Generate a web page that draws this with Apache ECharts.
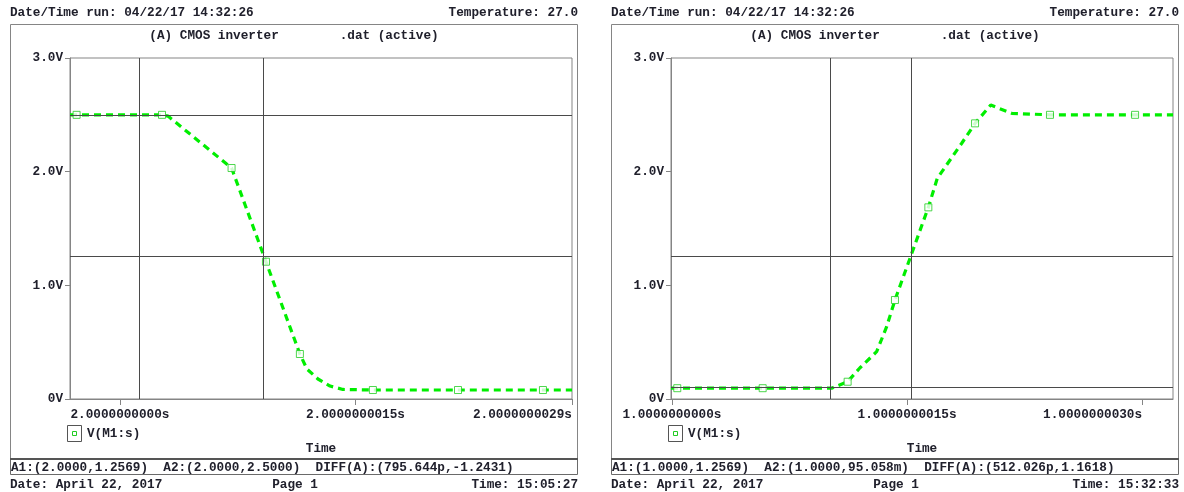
<!DOCTYPE html>
<html>
<head>
<meta charset="utf-8">
<script src="https://cdn.jsdelivr.net/npm/echarts@6/dist/echarts.min.js"></script>
<style>
  html, body { margin: 0; padding: 0; background: #ffffff; }
  #chart { width: 1184px; height: 492px; }
</style>
</head>
<body>
<div id="chart"></div>
<script>
// ---- waveform data: time offsets in ns, voltages in V ----
// falling output (left run, time base 2 s)
const leftTimeNs = [-0.318, -0.276, 0.268, 0.306, 0.711, 0.930, 1.146, 1.191, 1.261, 1.338, 1.420, 1.611, 2.153, 2.694, 2.879];
const leftVolts  = [2.500, 2.500, 2.500, 2.489, 2.032, 1.208, 0.396, 0.264, 0.176, 0.114, 0.084, 0.079, 0.079, 0.079, 0.079];
const leftMarked = [1, 2, 4, 5, 6, 11, 12, 13];

// rising output (right run, time base 1 s)
const rightTimeNs = [-0.006, 0.034, 0.579, 1.019, 1.121, 1.200, 1.306, 1.370, 1.423, 1.636, 1.693, 1.849, 1.934, 2.034, 2.168, 2.412, 2.955, 3.197];
const rightVolts  = [0.095, 0.095, 0.095, 0.095, 0.152, 0.275, 0.416, 0.636, 0.871, 1.686, 1.942, 2.250, 2.425, 2.586, 2.513, 2.500, 2.500, 2.500];
const rightMarked = [1, 2, 4, 8, 9, 12, 15, 16];

// cursor crosshairs [A1, A2]
const leftCursorX  = [0.911, 0.115];
const leftCursorY  = [1.2569, 2.5];
const rightCursorX = [1.527, 1.015];
const rightCursorY = [1.2569, 0.095058];

// axis ticks
const leftTickValues  = [0, 1.5, 2.879];
const leftTickLabels  = ['2.0000000000s', '2.0000000015s', '2.0000000029s'];
const rightTickValues = [0, 1.5, 3.0];
const rightTickLabels = ['1.0000000000s', '1.0000000015s', '1.0000000030s'];
const yTickLabels = ['0V', '1.0V', '2.0V', '3.0V'];

// page texts
const headerRun = 'Date/Time run: 04/22/17 14:32:26';
const headerTemp = 'Temperature: 27.0';
const plotTitle = '(A) CMOS inverter        .dat (active)';
const traceName = 'V(M1:s)';
const axisName = 'Time';
const leftCursorText  = 'A1:(2.0000,1.2569)  A2:(2.0000,2.5000)  DIFF(A):(795.644p,-1.2431)';
const rightCursorText = 'A1:(1.0000,1.2569)  A2:(1.0000,95.058m)  DIFF(A):(512.026p,1.1618)';
const footerDate = 'Date: April 22, 2017';
const footerPage = 'Page 1';
const leftFooterTime  = 'Time: 15:05:27';
const rightFooterTime = 'Time: 15:32:33';

const FONT = 'Liberation Mono';
const FS = 12.7;
const FW = 'bold';
const TXT = '#20202c';
const FRAME = '#858585';
const CURSOR = '#4a4a4a';
const TRACE = '#00ee00';

const chart = echarts.init(document.getElementById('chart'), null, { renderer: 'canvas' });

function pairs(t, v) { return t.map((x, i) => [x, v[i]]); }

function xAxisFor(gridIndex, min, max, values, labels) {
  const last = labels.length - 1;
  return {
    type: 'value', gridIndex, min, max,
    axisLine: { show: true, onZero: false, lineStyle: { color: FRAME, width: 1 } },
    axisTick: { show: true, length: 6, customValues: values, lineStyle: { color: FRAME } },
    splitLine: { show: false },
    axisLabel: {
      customValues: values,
      margin: 9,
      fontFamily: FONT, fontSize: FS, fontWeight: FW, color: TXT,
      formatter: (val) => {
        const i = values.findIndex(v => Math.abs(v - val) < 1e-9);
        if (i < 0) return '';
        // the last label ends at its tick
        return i === last ? '{e|' + labels[i] + '}' : labels[i];
      },
      rich: { e: { fontFamily: FONT, fontSize: FS, fontWeight: FW, color: TXT, padding: [0, labels[last].length * FS * 0.6, 0, 0] } }
    }
  };
}

function yAxisFor(gridIndex) {
  return {
    type: 'value', gridIndex, min: 0, max: 3, interval: 1,
    axisLine: { show: true, onZero: false, lineStyle: { color: FRAME, width: 1 } },
    axisTick: { show: true, length: 5, lineStyle: { color: FRAME } },
    splitLine: { show: false },
    axisLabel: {
      margin: 7, fontFamily: FONT, fontSize: FS, fontWeight: FW, color: TXT,
      formatter: (v) => yTickLabels[Math.round(v)]
    }
  };
}

function traceSeries(idx, t, v, cx, cy) {
  return {
    type: 'line', xAxisIndex: idx, yAxisIndex: idx,
    data: pairs(t, v),
    symbol: 'none', smooth: false, silent: true, animation: false,
    lineStyle: { color: TRACE, width: 3.2, type: [7, 5] },
    markLine: {
      silent: true, symbol: ['none', 'none'], animation: false,
      label: { show: false },
      lineStyle: { color: CURSOR, width: 1, type: 'solid' },
      data: [{ xAxis: cx[0] }, { xAxis: cx[1] }, { yAxis: cy[0] }, { yAxis: cy[1] }]
    },
    z: 3
  };
}

function markerSeries(idx, t, v, marked) {
  return {
    type: 'scatter', xAxisIndex: idx, yAxisIndex: idx,
    data: marked.map(i => [t[i], v[i]]),
    symbol: 'rect', symbolSize: 7, silent: true, animation: false,
    itemStyle: { color: '#ffffff', borderColor: '#22cc22', borderWidth: 1 },
    z: 4
  };
}

// frames and texts of one page
function pageGraphics(ox, cursorText, footerTime, plotCenter) {
  const t = (text, x, y, align) => ({
    type: 'text', x, y, silent: true,
    style: { text, fill: TXT, font: FW + ' ' + FS + 'px "' + FONT + '"', textAlign: align || 'left', textVerticalAlign: 'middle' }
  });
  return [
    { type: 'rect', silent: true, shape: { x: 10.5 + ox, y: 24.5, width: 567, height: 435 },
      style: { fill: 'none', stroke: FRAME, lineWidth: 1 } },
    { type: 'rect', silent: true, shape: { x: 10.5 + ox, y: 459.5, width: 567, height: 15 },
      style: { fill: 'none', stroke: '#6a6a6a', lineWidth: 1 } },
    { type: 'line', silent: true, shape: { x1: 10 + ox, y1: 459, x2: 578 + ox, y2: 459 },
      style: { stroke: '#555555', lineWidth: 2 } },
    t(headerRun, 10 + ox, 12.5),
    t(headerTemp, 578 + ox, 12.5, 'right'),
    t(plotTitle, 294 + ox, 36, 'center'),
    { type: 'rect', silent: true, shape: { x: 67.5 + ox, y: 425.5, width: 14, height: 16 },
      style: { fill: '#ffffff', stroke: '#555555', lineWidth: 1 } },
    { type: 'rect', silent: true, shape: { x: 72.5 + ox, y: 431.5, width: 4, height: 4 },
      style: { fill: '#ffffff', stroke: '#22cc22', lineWidth: 1 } },
    t(traceName, 87 + ox, 433.5),
    t(axisName, plotCenter, 449, 'center'),
    t(cursorText, 11 + ox, 467.5),
    t(footerDate, 10 + ox, 485),
    t(footerPage, 295 + ox, 485, 'center'),
    t(footerTime, 578 + ox, 485, 'right')
  ];
}

const option = {
  backgroundColor: '#ffffff',
  animation: false,
  textStyle: { fontFamily: FONT },
  grid: [
    { left: 70, top: 58, width: 502, height: 341, show: true, borderColor: FRAME, borderWidth: 1, backgroundColor: 'transparent' },
    { left: 671, top: 58, width: 502, height: 341, show: true, borderColor: FRAME, borderWidth: 1, backgroundColor: 'transparent' }
  ],
  xAxis: [
    xAxisFor(0, -0.318, 2.879, leftTickValues, leftTickLabels),
    xAxisFor(1, -0.006, 3.197, rightTickValues, rightTickLabels)
  ],
  yAxis: [yAxisFor(0), yAxisFor(1)],
  series: [
    traceSeries(0, leftTimeNs, leftVolts, leftCursorX, leftCursorY),
    markerSeries(0, leftTimeNs, leftVolts, leftMarked),
    traceSeries(1, rightTimeNs, rightVolts, rightCursorX, rightCursorY),
    markerSeries(1, rightTimeNs, rightVolts, rightMarked)
  ],
  graphic: [
    ...pageGraphics(0, leftCursorText, leftFooterTime, 321),
    ...pageGraphics(601, rightCursorText, rightFooterTime, 922)
  ]
};

chart.setOption(option);
</script>
</body>
</html>
